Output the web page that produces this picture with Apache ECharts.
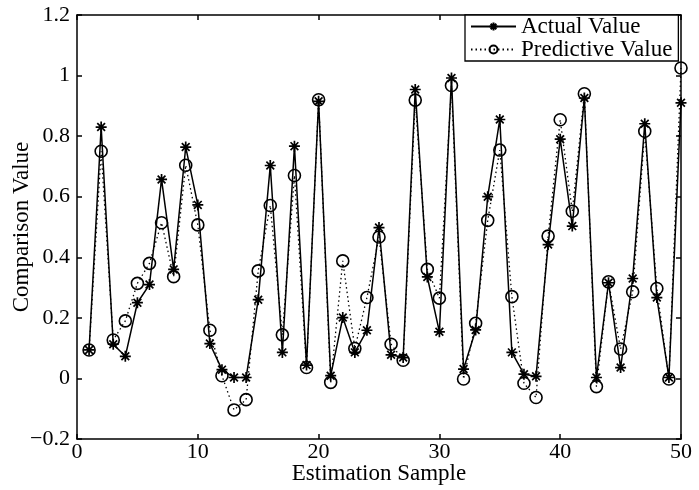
<!DOCTYPE html>
<html>
<head>
<meta charset="utf-8">
<script src="https://cdn.jsdelivr.net/npm/echarts@6/dist/echarts.min.js"></script>
<style>html,body{margin:0;padding:0;background:#fff}#c{width:699px;height:490px}</style>
</head>
<body>
<div id="c"></div>
<script>
const samples = [1,2,3,4,5,6,7,8,9,10,11,12,13,14,15,16,17,18,19,20,21,22,23,24,25,26,27,28,29,30,31,32,33,34,35,36,37,38,39,40,41,42,43,44,45,46,47,48,49,50];
const actualValue = [0.094,0.83,0.113,0.073,0.25,0.31,0.657,0.36,0.764,0.573,
  0.115,0.029,0.003,0.003,0.26,0.703,0.086,0.767,0.044,0.915,
  0.009,0.201,0.086,0.159,0.498,0.078,0.069,0.954,0.335,0.154,
  0.992,0.031,0.16,0.6,0.855,0.086,0.014,0.007,0.442,0.79,
  0.503,0.926,0.003,0.316,0.036,0.33,0.841,0.267,0.003,0.91];
const predictiveValue = [0.094,0.75,0.127,0.19,0.314,0.38,0.514,0.336,0.704,0.507,
  0.159,0.009,-0.104,-0.07,0.355,0.571,0.144,0.67,0.036,0.92,
  -0.013,0.388,0.099,0.267,0.467,0.113,0.06,0.919,0.36,0.265,
  0.967,-0.002,0.182,0.522,0.754,0.27,-0.016,-0.063,0.47,0.854,
  0.552,0.94,-0.027,0.319,0.097,0.286,0.816,0.297,-0.002,1.025];
const xTicks = [0,10,20,30,40,50];
const yTicks = [-0.2,0,0.2,0.4,0.6,0.8,1,1.2];

const FONT = '"Liberation Serif","Times New Roman",serif';
const starPath = 'path://M0,-10L0,10M-10,0L10,0M-7.07,-7.07L7.07,7.07M-7.07,7.07L7.07,-7.07';
const fmtY = v => { const r = parseFloat(v.toFixed(1)); return r < 0 ? '\u2212' + Math.abs(r) : String(r); };

const axisLine = {show:true, onZero:false, lineStyle:{color:'#000', width:1.5}};
const tick = {show:true, inside:true, length:5, lineStyle:{color:'#000', width:1.5}};
const chart = echarts.init(document.getElementById('c'), null, {renderer:'canvas'});
chart.setOption({
  animation:false,
  backgroundColor:'#fff',
  grid:{left:77, top:15, width:604, height:424, containLabel:false, outerBoundsMode:'none'},
  legend:{
    left:465, top:15, orient:'vertical',
    data:['Actual Value','Predictive Value'],
    backgroundColor:'#fff', borderColor:'#000', borderWidth:1.3, borderRadius:0,
    padding:[0,6,0,5], itemGap:0, itemWidth:45, itemHeight:10,
    textStyle:{fontFamily:FONT, fontSize:23, color:'#000', lineHeight:20, height:20}
  },
  xAxis:[{
    type:'value', min:0, max:50, interval:10, position:'bottom',
    axisLine:axisLine, splitLine:{show:false}, axisTick:tick,
    axisLabel:{fontFamily:FONT, fontSize:22, color:'#000', margin:2, formatter:v=>String(v)},
    name:'Estimation Sample', nameLocation:'middle', nameGap:23, nameMoveOverlap:false,
    nameTextStyle:{fontFamily:FONT, fontSize:23, color:'#000'}
  },{
    type:'value', min:0, max:50, interval:10, position:'top',
    axisLine:axisLine, splitLine:{show:false}, axisTick:tick,
    axisLabel:{show:false}
  }],
  yAxis:[{
    type:'value', min:-0.2, max:1.2, interval:0.2, position:'left',
    axisLine:axisLine, splitLine:{show:false}, axisTick:tick,
    axisLabel:{fontFamily:FONT, fontSize:22, color:'#000', margin:7, formatter:fmtY},
    name:'Comparison Value', nameLocation:'middle', nameGap:44, nameRotate:90, nameMoveOverlap:false,
    nameTextStyle:{fontFamily:FONT, fontSize:23, color:'#000'}
  },{
    type:'value', min:-0.2, max:1.2, interval:0.2, position:'right',
    axisLine:axisLine, splitLine:{show:false}, axisTick:tick,
    axisLabel:{show:false}
  }],
  series:[{
    name:'Predictive Value', type:'line', xAxisIndex:0, yAxisIndex:0,
    data:samples.map((x,i)=>[x, predictiveValue[i]]),
    symbol:'circle', symbolSize:12, showAllSymbol:true,
    lineStyle:{color:'#000', width:1.3, type:[1.5,3]},
    itemStyle:{color:'rgba(0,0,0,0)', borderColor:'#000', borderWidth:1.6},
    z:2
  },{
    name:'Actual Value', type:'line', xAxisIndex:0, yAxisIndex:0,
    data:samples.map((x,i)=>[x, actualValue[i]]),
    symbol:starPath, symbolSize:11, symbolKeepAspect:true, showAllSymbol:true,
    lineStyle:{color:'#000', width:1.5, type:'solid'},
    itemStyle:{color:'#000', borderColor:'#000', borderWidth:1.7},
    z:3
  }]
});
</script>
</body>
</html>
